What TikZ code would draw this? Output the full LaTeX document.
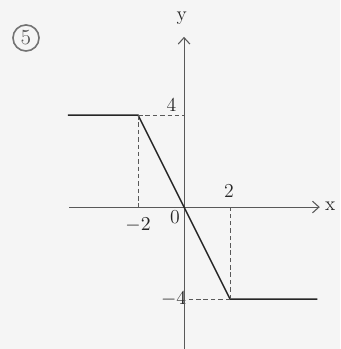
\documentclass[tikz,border=0pt]{standalone}
\usepackage{tikz}
\usetikzlibrary{arrows.meta,positioning}

\begin{document}
\begin{tikzpicture}[
  x=0.45cm, y=0.45cm,
  axis/.style={draw=black!65, line width=0.6pt},
  graph/.style={draw=black!85, line width=0.85pt},
  guide/.style={draw=black!65, line width=0.55pt, dash pattern=on 2.5pt off 1.6pt},
  lbl/.style={font=\fontsize{11}{13}\selectfont, text=black!85, inner sep=1pt},
  >={Straight Barb[length=3.6pt,width=6.5pt]}
]
\fill[black!4] (-8,-6.17) rectangle (6.78,9);
\useasboundingbox (-8,-6.17) rectangle (6.78,9);

\coordinate (xl) at (-5.0,0);
\coordinate (xr) at (5.9,0);
\coordinate (yb) at (0,-6.2);
\coordinate (yt) at (0,7.4);
\coordinate (L)  at (-5.05,4);
\coordinate (A)  at (-2,4);
\coordinate (B)  at (2,-4);
\coordinate (R)  at (5.8,-4);
\coordinate (Ax) at (-2,0);
\coordinate (Ay) at (0,4);
\coordinate (Bx) at (2,0);

\node[lbl] (ylab)  at (-0.1,8.2)   {y};
\node[lbl] (xlab)  at (6.35,0.05)  {x};
\node[lbl] (four)  at (-0.55,4.45) {4};
\node[lbl] (mfour) at (-0.45,-4)   {$-4$};
\node[lbl] (two)   at (1.95,0.72)  {2};
\node[lbl] (mtwo)  at (-2,-0.78)   {$-2$};
\node[lbl] (zero)  at (-0.4,-0.45) {0};
\node[draw=black!55, line width=0.9pt, circle, minimum size=14.5pt, inner sep=0pt,
      font=\fontsize{12}{14}\selectfont, text=black!65] (num) at (-6.87,7.35) {5};

\draw[axis,->] (xl) -- (xr);
\draw[axis,->] (yb) -- (yt);
\draw[graph] (L) -- (A) -- (B) -- (R);
\draw[guide] (A) -- (Ax);
\draw[guide] (A) -- (Ay);
\draw[guide] (B) -- (Bx);
\draw[guide] (B) -- (mfour);
\end{tikzpicture}
\end{document}
